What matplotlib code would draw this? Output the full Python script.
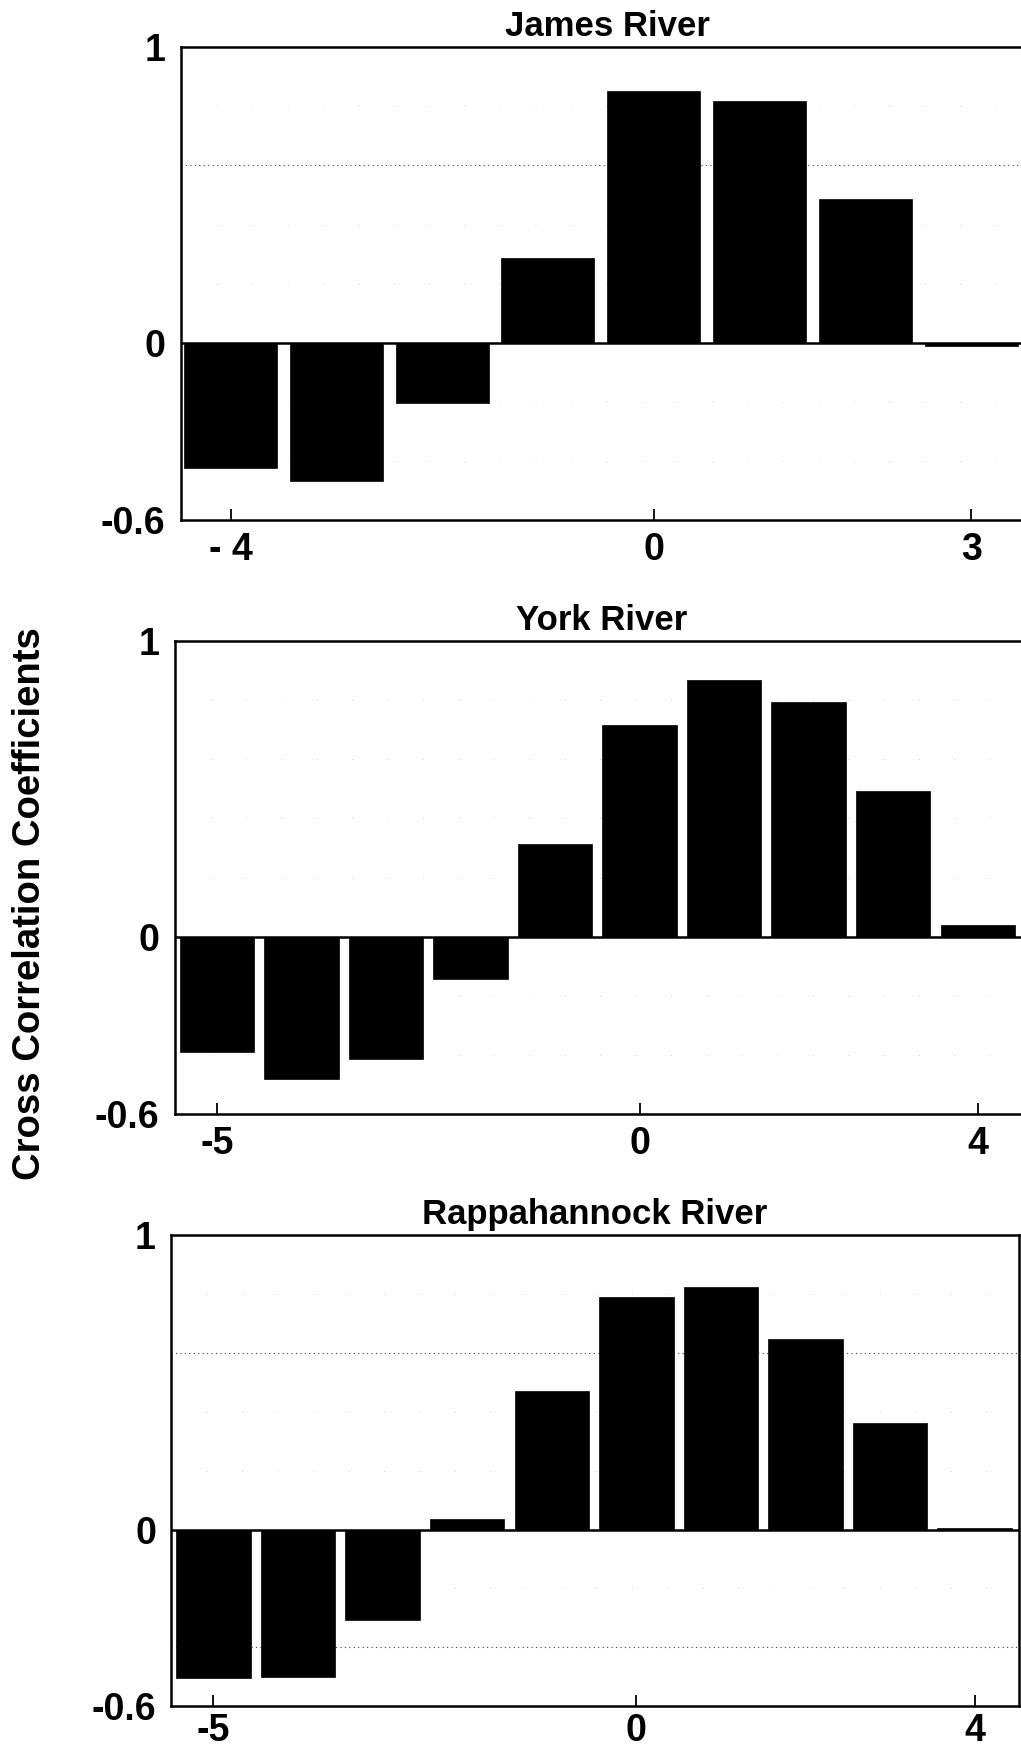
import matplotlib
matplotlib.use("Agg")
import matplotlib.pyplot as plt
import numpy as np

plt.rcParams['font.family'] = ['Liberation Sans', 'DejaVu Sans']
plt.rcParams['font.weight'] = 'bold'

# ---------------- data ----------------
titles = ["James River", "York River", "Rappahannock River"]

james_lags = [-4, -3, -2, -1, 0, 1, 2, 3]
james_vals = [-0.426, -0.47, -0.204, 0.286, 0.853, 0.817, 0.485, -0.01]

york_lags = [-5, -4, -3, -2, -1, 0, 1, 2, 3, 4]
york_vals = [-0.392, -0.482, -0.414, -0.142, 0.315, 0.716, 0.867, 0.793, 0.492, 0.041]

rapp_lags = [-5, -4, -3, -2, -1, 0, 1, 2, 3, 4]
rapp_vals = [-0.502, -0.499, -0.307, 0.034, 0.471, 0.79, 0.821, 0.645, 0.361, 0.006]

james_xticks = [-4, 0, 3]
james_xticklabels = ["- 4", "0", "3"]
york_xticks = [-5, 0, 4]
york_xticklabels = ["-5", "0", "4"]
rapp_xticks = [-5, 0, 4]
rapp_xticklabels = ["-5", "0", "4"]

yticks = [-0.6, 0, 1]
yticklabels = ["-0.6", "0", "1"]

ylabel = "Cross Correlation Coefficients"

# ---------------- layout (pixels) ----------------
W, H = 1021, 1750
fig = plt.figure(figsize=(W / 100, H / 100), dpi=100)

panels = [
    dict(lags=james_lags, vals=james_vals, xt=james_xticks, xtl=james_xticklabels,
         left=180.8, top=47.4, bottom=519.8, xlim=(-4.47, 3.6), unit=105.8,
         dense=[0.6], xpad=9),
    dict(lags=york_lags, vals=york_vals, xt=york_xticks, xtl=york_xticklabels,
         left=174.5, top=641.2, bottom=1113.9, xlim=(-5.5, 4.6), unit=84.56,
         dense=[], xpad=9),
    dict(lags=rapp_lags, vals=rapp_vals, xt=rapp_xticks, xtl=rapp_xticklabels,
         left=171.2, top=1234.7, bottom=1706.4, xlim=(-5.5, 4.525), unit=84.57,
         dense=[0.6, -0.4], xpad=5),
]

for title, p in zip(titles, panels):
    width_px = (p['xlim'][1] - p['xlim'][0]) * p['unit']
    ax = fig.add_axes([p['left'] / W, 1 - p['bottom'] / H,
                       width_px / W, (p['bottom'] - p['top']) / H])
    ax.set_xlim(*p['xlim'])
    ax.set_ylim(-0.6, 1)

    for lev in [0.8, 0.6, 0.4, 0.2, -0.2, -0.4]:
        if lev in p['dense']:
            ax.axhline(lev, color='#444444', lw=0.8, ls=(0, (1, 3)), zorder=0.5)
        else:
            ax.axhline(lev, color='#aaaaaa', lw=0.5, ls=(0, (1, 50)), zorder=0.5)

    ax.bar(p['lags'], p['vals'], width=0.88, color='black', edgecolor='black',
           linewidth=0.5, zorder=2)
    ax.axhline(0, color='black', lw=1.8, zorder=3)

    for s in ax.spines.values():
        s.set_linewidth(1.8)

    ax.set_xticks(p['xt'])
    ax.set_xticklabels(p['xtl'])
    ax.set_yticks(yticks)
    ax.set_yticklabels(yticklabels)
    ax.tick_params(axis='x', direction='in', length=8, width=1.3, pad=p['xpad'],
                   labelsize=27)
    ax.tick_params(axis='y', length=0, pad=11, labelsize=27)
    for lab in ax.get_xticklabels() + ax.get_yticklabels():
        lab.set_fontweight('bold')
    ax.set_title(title, fontsize=25, fontweight='bold', pad=8)

fig.text(30 / W, 1 - 904 / H, ylabel, rotation=90, ha='center', va='center',
         fontsize=27.5, fontweight='bold')

fig.savefig("out.png", dpi=100)
